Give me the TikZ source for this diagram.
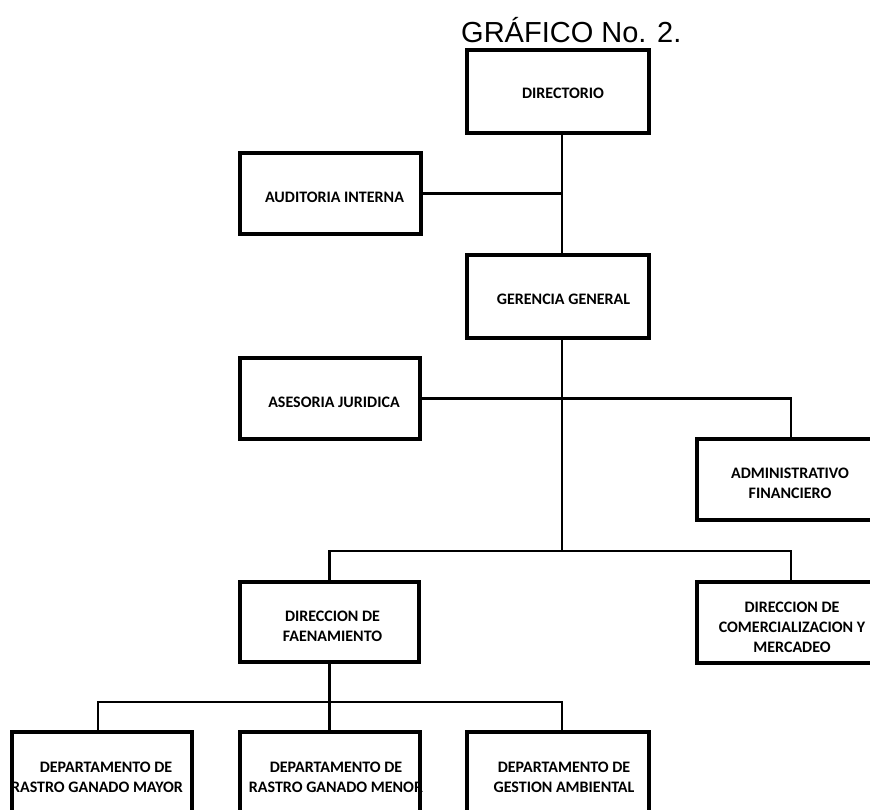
\documentclass[tikz,border=0pt]{standalone}
\usepackage{fontspec}
\newfontfamily\boxfont{Carlito}
\newfontfamily\headfont{Liberation Sans}
\begin{document}
\begin{tikzpicture}[x=1pt,y=-1pt,
  box/.style={draw=black, line width=3.6pt, rectangle, inner sep=0pt},
  boxtext/.style={font=\boxfont\bfseries\fontsize{16}{20}\selectfont,
    align=center, inner sep=0pt, anchor=base, text=black},
  link/.style={draw=black, line width=2.4pt}]
\useasboundingbox (0,0) rectangle (870,810);
\clip (0,0) rectangle (870,810);

% title
\node[font=\headfont\fontsize{29}{35}\selectfont, inner sep=0pt, anchor=base west]
  (title) at (461,43) {GRÁFICO No. 2.};

% boxes
\node[box, minimum width=182pt, minimum height=83pt] (dir) at (558,91.5) {};
\node[box, minimum width=181pt, minimum height=81pt] (aud) at (330.5,193.5) {};
\node[box, minimum width=182pt, minimum height=83pt] (ger) at (558,296.5) {};
\node[box, minimum width=180pt, minimum height=81pt] (ase) at (330,398.5) {};
\node[box, minimum width=188pt, minimum height=81pt] (adm) at (791,479.5) {};
\node[box, minimum width=179pt, minimum height=80pt] (fae) at (329.5,622) {};
\node[box, minimum width=188pt, minimum height=81pt] (com) at (791,622.5) {};
\node[box, minimum width=180pt, minimum height=98pt] (rgm) at (102,781) {};
\node[box, minimum width=180pt, minimum height=98pt] (rgn) at (330,781) {};
\node[box, minimum width=182pt, minimum height=98pt] (gam) at (558,781) {};

% box labels (base anchor sits on the last line)
\node[boxtext] (dir-t) at (563,99) {DIRECTORIO};
\node[boxtext] (aud-t) at (334.5,203) {AUDITORIA INTERNA};
\node[boxtext] (ger-t) at (563.5,305) {GERENCIA GENERAL};
\node[boxtext] (ase-t) at (334,407) {ASESORIA JURIDICA};
\node[boxtext] (adm-t) at (790,498) {ADMINISTRATIVO\\FINANCIERO};
\node[boxtext] (fae-t) at (332.5,641) {DIRECCION DE\\FAENAMIENTO};
\node[boxtext] (com-t) at (792,652) {DIRECCION DE\\COMERCIALIZACION Y\\MERCADEO};
\node[boxtext] (rgm-t) at (97,792) {\hspace*{18pt}DEPARTAMENTO DE\\RASTRO GANADO MAYOR};
\node[boxtext] (rgn-t) at (336,792) {DEPARTAMENTO DE\\RASTRO GANADO MENOR};
\node[boxtext] (gam-t) at (564,792) {DEPARTAMENTO DE\\GESTION AMBIENTAL};

% junction points
\coordinate (j1) at (562,551);
\coordinate (j2) at (329.5,702);
\coordinate (d1) at (98,702);
\coordinate (d3) at (562,702);

% connectors
\draw[link] (dir.south -| j1) -- (ger.north -| j1);
\draw[link] (aud.east) -- (aud.east -| j1);
\draw[link] (ger.south -| j1) -- (j1);
\draw[link] ([xshift=-2pt]ase.east) -- (ase.east -| adm.north) -- (adm.north);
\draw[link] (fae.north) -- (fae.north |- j1) -- (com.north |- j1) -- (com.north);
\draw[link] (fae.south) -- (j2) -- (j2 |- rgn.north);
\draw[link] (d1 |- rgm.north) -- (d1) -- (d3) -- (d3 |- gam.north);
\end{tikzpicture}
\end{document}
